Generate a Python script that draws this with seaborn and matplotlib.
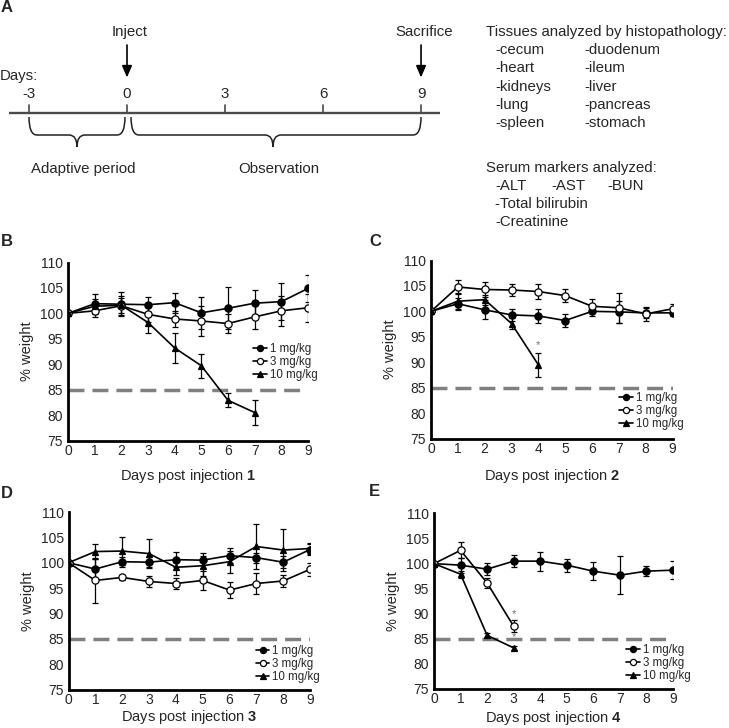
import numpy as np
import pandas as pd
import matplotlib
matplotlib.use("Agg")
import matplotlib.pyplot as plt
from matplotlib.path import Path
from matplotlib.patches import PathPatch
import seaborn as sns

# ---------------- data ----------------
days = list(range(10))
doses = ["1 mg/kg", "3 mg/kg", "10 mg/kg"]

b_1 = [100, 101.9, 101.8, 101.7, 102.1, 100.1, 101.0, 102.0, 102.3, 104.9]
b_1_err = [0, 1.9, 2.4, 1.5, 2.0, 3.1, 4.1, 2.5, 3.6, 2.7]
b_3 = [100, 100.5, 101.5, 99.8, 98.9, 98.5, 98.0, 99.3, 100.5, 101.1]
b_3_err = [0, 1.2, 1.9, 1.5, 1.5, 3.0, 1.9, 2.4, 2.9, 2.8]
b_10 = [100, 101.4, 101.6, 98.2, 93.2, 89.7, 82.9, 80.5]
b_10_err = [0, 1.5, 1.5, 2.1, 2.9, 2.4, 1.4, 2.5]

c_1 = [100, 101.5, 100.3, 99.3, 99.1, 98.2, 100.0, 99.9, 99.7, 99.7]
c_1_err = [0, 1.2, 1.9, 1.2, 1.4, 1.2, 0.9, 2.2, 1.0, 0.6]
c_3 = [100, 104.8, 104.3, 104.2, 103.9, 103.1, 101.0, 100.7, 99.5, 100.5]
c_3_err = [0, 1.3, 1.4, 1.1, 1.4, 1.3, 1.4, 3.0, 1.4, 0.9]
c_10 = [100, 102.0, 102.3, 97.6, 89.5]
c_10_err = [0, 1.6, 1.0, 1.0, 2.4]

d_1 = [100, 98.75, 100.2, 100.1, 100.6, 100.5, 101.4, 101.0, 100.1, 102.6]
d_1_err = [0, 2.0, 1.0, 1.0, 1.5, 1.5, 1.5, 1.0, 1.2, 1.0]
d_3 = [100, 96.5, 97.1, 96.3, 95.9, 96.5, 94.6, 95.9, 96.4, 98.7]
d_3_err = [0, 4.5, 0.5, 1.0, 1.0, 1.9, 1.5, 2.1, 1.2, 1.3]
d_10 = [100, 102.2, 102.3, 101.8, 99.1, 99.4, 100.2, 103.2, 102.5, 102.8]
d_10_err = [0, 1.5, 2.7, 2.8, 1.5, 2.0, 2.2, 4.5, 4.2, 1.0]

e_1 = [100, 99.7, 98.9, 100.5, 100.5, 99.7, 98.5, 97.7, 98.5, 98.7]
e_1_err = [0, 1.5, 1.2, 1.2, 1.9, 1.3, 1.8, 3.8, 1.0, 1.8]
e_3 = [100, 102.65, 96.15, 87.5]
e_3_err = [0, 1.6, 1.0, 1.2]
e_10 = [100, 97.9, 85.7, 83.2]
e_10_err = [0, 0.7, 0.4, 0.4]

threshold = 85
y_ticks = [75, 80, 85, 90, 95, 100, 105, 110]

# asterisks: (day, value)
c_stars = [(4, 93.4)]
e_stars = [(3, 89.9), (3, 85.3)]

timeline_days = [-3, 0, 3, 6, 9]
tissues_left = ["-cecum", "-heart", "-kidneys", "-lung", "-spleen"]
tissues_right = ["-duodenum", "-ileum", "-liver", "-pancreas", "-stomach"]

# ---------------- style ----------------
sns.set_style("white")
plt.rcParams["font.family"] = ["Liberation Sans", "DejaVu Sans"]
plt.rcParams["mathtext.fontset"] = "custom"
plt.rcParams["mathtext.rm"] = "Liberation Sans"
plt.rcParams["mathtext.bf"] = "Liberation Sans:bold"

W, H = 729, 728
fig = plt.figure(figsize=(W / 100, H / 100), dpi=100)

# full-figure pixel overlay for the schematic / panel letters
axp = fig.add_axes([0, 0, 1, 1])
axp.set_xlim(0, W)
axp.set_ylim(H, 0)
axp.axis("off")

TXT = 10.8
def px_day(d):
    return 127 + d * 32.67

axp.text(1, 8, "A", fontsize=12, fontweight="bold", ha="left", va="center")
axp.plot([9, 440], [113, 113], color="#4a4a4a", lw=1.7, solid_capstyle="butt")
for d in timeline_days:
    x = px_day(d)
    axp.plot([x, x], [104.5, 113], color="#4a4a4a", lw=1.2)
    axp.text(x, 94, str(d), fontsize=TXT, ha="center", va="center")
axp.text(0, 76, "Days:", fontsize=TXT, ha="left", va="center")
for label, d in [("Inject", 0), ("Sacrifice", 9)]:
    x = px_day(d)
    axp.text(x + 3, 32, label, fontsize=TXT, ha="center", va="center")
    axp.annotate("", xy=(x, 77.5), xytext=(x, 45),
                 arrowprops=dict(arrowstyle="-|>,head_length=0.7,head_width=0.3",
                                 color="black", lw=1.2, shrinkA=0, shrinkB=0))

def brace(x1, x2, xm, ytop=117, ybar=135, ytip=147, r=8):
    verts = [(x1, ytop), (x1, ybar), (x1 + r, ybar), (xm - r, ybar), (xm, ybar), (xm, ytip),
             (xm, ybar), (xm + r, ybar), (x2 - r, ybar), (x2, ybar), (x2, ytop)]
    codes = [Path.MOVETO, Path.CURVE3, Path.CURVE3, Path.LINETO, Path.CURVE3, Path.CURVE3,
             Path.CURVE3, Path.CURVE3, Path.LINETO, Path.CURVE3, Path.CURVE3]
    axp.add_patch(PathPatch(Path(verts, codes), fill=False, ec="#222222", lw=1.1))

brace(px_day(-3), px_day(0) - 2, 77)
brace(px_day(0) + 4, px_day(9), 273)
axp.text(83, 169, "Adaptive period", fontsize=TXT, ha="center", va="center")
axp.text(279, 169, "Observation", fontsize=TXT, ha="center", va="center")

axp.text(486, 32, "Tissues analyzed by histopathology:", fontsize=TXT, ha="left", va="center")
for i, (l, r) in enumerate(zip(tissues_left, tissues_right)):
    y = 50 + i * 18.3
    axp.text(495, y, l, fontsize=TXT, ha="left", va="center")
    axp.text(584, y, r, fontsize=TXT, ha="left", va="center")
axp.text(486, 168, "Serum markers analyzed:", fontsize=TXT, ha="left", va="center")
axp.text(495, 186, "-ALT", fontsize=TXT, ha="left", va="center")
axp.text(551, 186, "-AST", fontsize=TXT, ha="left", va="center")
axp.text(607, 186, "-BUN", fontsize=TXT, ha="left", va="center")
axp.text(495, 204, "-Total bilirubin", fontsize=TXT, ha="left", va="center")
axp.text(495, 222, "-Creatinine", fontsize=TXT, ha="left", va="center")

for lab, x, y in [("B", 1, 241), ("C", 369, 241), ("D", 1, 493), ("E", 369, 492)]:
    axp.text(x, y, lab, fontsize=12, fontweight="bold", ha="left", va="center")

# ---------------- weight panels ----------------
def rect(l, r, t, b):
    return [l / W, (H - b) / H, (r - l) / W, (b - t) / H]

panels = [
    dict(rect=rect(68, 308, 262.5, 440.5), n="1", lp=6.5,
         series=[(b_1, b_1_err), (b_3, b_3_err), (b_10, b_10_err)],
         leg=(0.77, 0.545), stars=[]),
    dict(rect=rect(431, 672.5, 260.5, 438.5), n="2", lp=8,
         series=[(c_1, c_1_err), (c_3, c_3_err), (c_10, c_10_err)],
         leg=(0.78, 0.26), stars=c_stars),
    dict(rect=rect(68.5, 310, 512, 689.5), n="3", lp=1,
         series=[(d_1, d_1_err), (d_3, d_3_err), (d_10, d_10_err)],
         leg=(0.775, 0.25), stars=[]),
    dict(rect=rect(434, 673, 513.5, 689), n="4", lp=1.5,
         series=[(e_1, e_1_err), (e_3, e_3_err), (e_10, e_10_err)],
         leg=(0.805, 0.258), stars=e_stars),
]

marker_styles = [
    dict(marker="o", markerfacecolor="black", markersize=5.2),
    dict(marker="o", markerfacecolor="white", markersize=5.2),
    dict(marker="^", markerfacecolor="black", markersize=5.0),
]

for p in panels:
    ax = fig.add_axes(p["rect"])
    ax.axhline(threshold, color="#808080", lw=2.5, dashes=(4.6, 2.3), zorder=1)
    for (vals, errs), dose, ms in zip(p["series"], doses, marker_styles):
        x = days[:len(vals)]
        ax.errorbar(x, vals, yerr=errs, fmt="none", ecolor="black", elinewidth=0.9,
                    capsize=2, capthick=0.9, zorder=2)
        sns.lineplot(x=x, y=vals, ax=ax, color="black", linewidth=1.2, errorbar=None,
                     markeredgecolor="black", markeredgewidth=0.9, label=dose,
                     zorder=3, **ms)
    for (sx, sy) in p["stars"]:
        ax.text(sx, sy, "*", color="#707070", fontsize=8, ha="center", va="center")
    ax.set_xlim(0, 9)
    ax.set_ylim(75, 110)
    ax.set_xticks(days)
    ax.set_yticks(y_ticks)
    ax.tick_params(axis="both", length=0, labelsize=10)
    ax.tick_params(axis="y", pad=3.5)
    ax.tick_params(axis="x", pad=2.5)
    for s in ["top", "right"]:
        ax.spines[s].set_visible(False)
    for s in ["left", "bottom"]:
        ax.spines[s].set_linewidth(2.0)
        ax.spines[s].set_color("black")
    ax.set_facecolor("none")
    ax.set_xlabel(r"Days post injection $\mathbf{" + p["n"] + "}$", fontsize=10.5,
                  labelpad=p["lp"])
    ax.set_ylabel("% weight", fontsize=10.5, labelpad=4)
    ax.legend(loc="upper left", bbox_to_anchor=p["leg"], frameon=False, fontsize=8.3,
              borderpad=0, borderaxespad=0, handlelength=1.2, handletextpad=0.25,
              labelspacing=0.08, markerscale=0.85, numpoints=1)

fig.savefig("out.png", dpi=100)
